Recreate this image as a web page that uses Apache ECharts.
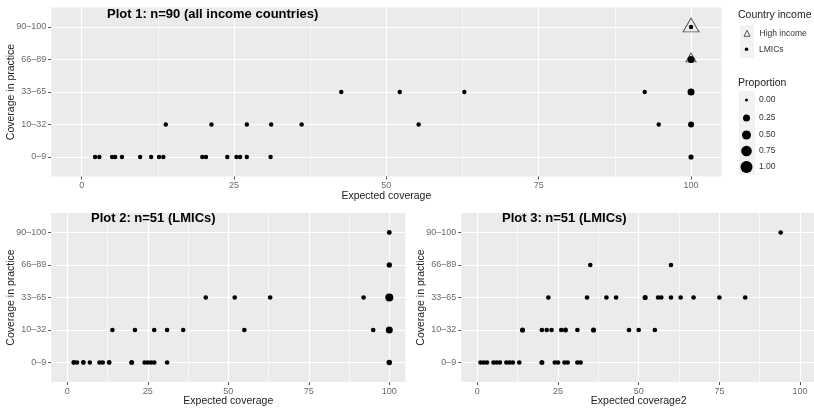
<!DOCTYPE html>
<html><head><meta charset="utf-8">
<script src="https://cdn.jsdelivr.net/npm/echarts@6/dist/echarts.min.js"></script>
<style>html,body{margin:0;padding:0;background:#fff}#c{width:814px;height:411px}</style>
</head><body><div id="c"></div>
<script>
// ---- data ----
const yLabels = ['0–9', '10–32', '33–65', '66–89', '90–100'];
const xTicks = [0, 25, 50, 75, 100];
const xMinorTicks = [12.5, 37.5, 62.5, 87.5];
const propLegend = ['0.00', '0.25', '0.50', '0.75', '1.00'];

// Plot 1: all income countries (row = index into yLabels)
const p1LmicX = [2.2, 2.9, 5.0, 5.5, 6.6, 9.6, 11.4, 12.7, 13.4, 19.8, 20.4, 23.9, 25.4, 26.0, 27.1, 31.0, 100,
                 13.8, 21.3, 27.1, 31.1, 36.1, 55.3, 94.7, 100,
                 42.6, 52.2, 62.8, 92.4, 100,
                 100,
                 100];
const p1LmicRow = [0, 0, 0, 0, 0, 0, 0, 0, 0, 0, 0, 0, 0, 0, 0, 0, 0,
                   1, 1, 1, 1, 1, 1, 1, 1,
                   2, 2, 2, 2, 2,
                   3,
                   4];
const p1LmicP = [0.06, 0.06, 0.06, 0.06, 0.06, 0.06, 0.06, 0.06, 0.06, 0.06, 0.06, 0.06, 0.06, 0.06, 0.06, 0.06, 0.10,
                 0.06, 0.06, 0.06, 0.06, 0.06, 0.06, 0.06, 0.16,
                 0.06, 0.06, 0.06, 0.06, 0.25,
                 0.25,
                 0.06];
const p1HighX = [100, 100];
const p1HighRow = [3, 4];
const p1HighP = [0.30, 0.95];

// Plot 2: LMICs, expected coverage
const p2X = [2, 3, 5, 7, 10, 11, 13, 20, 24, 25, 26, 27, 31, 100,
             14, 21, 27, 31, 36, 55, 95, 100,
             43, 52, 63, 92, 100,
             100,
             100];
const p2Row = [0, 0, 0, 0, 0, 0, 0, 0, 0, 0, 0, 0, 0, 0,
               1, 1, 1, 1, 1, 1, 1, 1,
               2, 2, 2, 2, 2,
               3,
               4];
const p2P = [0.08, 0.07, 0.08, 0.06, 0.07, 0.07, 0.08, 0.09, 0.07, 0.07, 0.07, 0.07, 0.07, 0.12,
             0.07, 0.07, 0.07, 0.07, 0.07, 0.07, 0.07, 0.25,
             0.07, 0.07, 0.07, 0.07, 0.36,
             0.11,
             0.08];

// Plot 3: LMICs, expected coverage2
const p3X = [1, 2, 3, 5, 6, 7, 9, 10, 11, 13, 20, 24, 25, 27, 28, 31, 32,
             14, 20, 21.5, 23, 26, 27.3, 31, 36, 47, 50, 55,
             22, 34, 40, 43, 52, 56, 57, 60, 63, 67, 75, 83,
             35, 60,
             94];
const p3Row = [0, 0, 0, 0, 0, 0, 0, 0, 0, 0, 0, 0, 0, 0, 0, 0, 0,
               1, 1, 1, 1, 1, 1, 1, 1, 1, 1, 1,
               2, 2, 2, 2, 2, 2, 2, 2, 2, 2, 2, 2,
               3, 3,
               4];
const p3P = [0.07, 0.07, 0.07, 0.07, 0.07, 0.07, 0.07, 0.07, 0.07, 0.07, 0.09, 0.07, 0.07, 0.07, 0.07, 0.07, 0.07,
             0.10, 0.07, 0.07, 0.07, 0.07, 0.09, 0.07, 0.10, 0.07, 0.07, 0.07,
             0.07, 0.07, 0.07, 0.07, 0.10, 0.07, 0.07, 0.07, 0.07, 0.07, 0.07, 0.07,
             0.07, 0.07,
             0.07];

// ---- chart ----
const FF = '"Liberation Sans", Arial, sans-serif';
const dotSize = p => 2 + 10 * Math.sqrt(p);
const toData = (xs, rows, ps) => xs.map((x, i) => [x, rows[i] + 1, ps[i]]);
const TICK_COLOR = '#6a6a6a';

function grid(left, top, width) {
  return {left, top, width, height: 169, show: true, backgroundColor: '#EBEBEB', borderWidth: 0, outerBoundsMode: 'none', containLabel: false};
}
function majorX(gi, name) {
  return {
    type: 'value', gridIndex: gi, min: -5, max: 105, position: 'bottom',
    name, nameLocation: 'middle', nameGap: 14, nameMoveOverlap: false,
    nameTextStyle: {fontSize: 10.5, color: '#222', fontFamily: FF},
    axisLine: {show: false, onZero: false},
    axisTick: {show: true, customValues: xTicks, length: 3, lineStyle: {color: '#555', width: 1}},
    axisLabel: {customValues: xTicks, fontSize: 9, color: TICK_COLOR, margin: 5, fontFamily: FF},
    splitLine: {show: true, lineStyle: {color: '#fff', width: 1.2}}
  };
}
function minorX(gi) {
  return {
    type: 'value', gridIndex: gi, min: -5, max: 105, position: 'top',
    axisLine: {show: false, onZero: false},
    axisTick: {show: false, customValues: xMinorTicks},
    axisLabel: {show: false, customValues: xMinorTicks},
    splitLine: {show: true, lineStyle: {color: '#fff', width: 0.6}}
  };
}
function yAx(gi) {
  return {
    type: 'value', gridIndex: gi, min: 0.4, max: 5.6,
    name: 'Coverage in practice', nameLocation: 'middle', nameGap: 35, nameMoveOverlap: false,
    nameTextStyle: {fontSize: 10.5, color: '#222', fontFamily: FF},
    axisLine: {show: false, onZero: false},
    axisTick: {show: true, customValues: [1, 2, 3, 4, 5], length: 3, lineStyle: {color: '#555', width: 1}},
    axisLabel: {customValues: [1, 2, 3, 4, 5], formatter: v => yLabels[Math.round(v) - 1], fontSize: 9, color: TICK_COLOR, margin: 5, fontFamily: FF},
    splitLine: {show: true, lineStyle: {color: '#fff', width: 1.2}}
  };
}
function dots(gi, data) {
  return {
    name: 'LMICs', type: 'scatter', xAxisIndex: gi * 2, yAxisIndex: gi, data,
    symbol: 'circle', symbolSize: d => dotSize(d[2]),
    itemStyle: {color: '#000', opacity: 1}, emphasis: {disabled: true}, silent: true
  };
}

// icon centre x, label left x for legend keys
const KEY_CX = 746.5, LABEL_X = 759;
function keyLegend(name, icon, d, cy, itemStyle) {
  const left = KEY_CX - d / 2;
  const textX = left + d + 5;
  const item = {name, icon};
  if (itemStyle) item.itemStyle = itemStyle;
  return {
    orient: 'vertical', padding: 0, selectedMode: false,
    left, top: cy - 6, itemWidth: d, itemHeight: d,
    textStyle: {fontSize: 8.5, color: '#333', lineHeight: 12, fontFamily: FF, padding: [0, 0, 0, Math.max(0, LABEL_X - textX)]},
    data: [item]
  };
}
const propCenters = [100, 118, 135, 151, 167];

const option = {
  animation: false,
  textStyle: {fontFamily: FF},
  title: [
    {text: 'Plot 1: n=90 (all income countries)', left: 107, top: 7, padding: 0, textStyle: {fontSize: 13, fontWeight: 'bold', color: '#000', lineHeight: 15, fontFamily: FF}},
    {text: 'Plot 2: n=51 (LMICs)', left: 91, top: 210.5, padding: 0, textStyle: {fontSize: 13, fontWeight: 'bold', color: '#000', lineHeight: 15, fontFamily: FF}},
    {text: 'Plot 3: n=51 (LMICs)', left: 502, top: 210.5, padding: 0, textStyle: {fontSize: 13, fontWeight: 'bold', color: '#000', lineHeight: 15, fontFamily: FF}},
    {text: 'Country income', left: 738, top: 9, padding: 0, textStyle: {fontSize: 10.5, fontWeight: 'normal', color: '#222', lineHeight: 12, fontFamily: FF}},
    {text: 'Proportion', left: 738, top: 77, padding: 0, textStyle: {fontSize: 10.5, fontWeight: 'normal', color: '#222', lineHeight: 12, fontFamily: FF}}
  ],
  graphic: [
    {type: 'rect', shape: {x: 740, y: 25, width: 14, height: 33}, style: {fill: '#F2F2F2'}, z: 0, silent: true},
    {type: 'rect', shape: {x: 739, y: 91, width: 16, height: 84}, style: {fill: '#F2F2F2'}, z: 0, silent: true}
  ],
  grid: [grid(51.2, 7.5, 670.3), grid(51.2, 213, 354.2), grid(461.2, 213, 355)],
  xAxis: [majorX(0, 'Expected coverage'), minorX(0), majorX(1, 'Expected coverage'), minorX(1), majorX(2, 'Expected coverage2'), minorX(2)],
  yAxis: [yAx(0), yAx(1), yAx(2)],
  legend: [
    keyLegend('High income', 'triangle', 6, 33.3, {color: 'rgba(0,0,0,0)', borderColor: '#555', borderWidth: 1}),
    keyLegend('LMICs', 'circle', 3.5, 49.3, null)
  ].concat(propLegend.map((n, i) => keyLegend(n, 'circle', Math.max(3, dotSize(parseFloat(n))), propCenters[i], null))),
  series: [
    {
      name: 'High income', type: 'scatter', xAxisIndex: 0, yAxisIndex: 0,
      data: toData(p1HighX, p1HighRow, p1HighP),
      symbol: 'triangle',
      symbolSize: d => { const w = 1.35 * dotSize(d[2]); return [w, w * 0.87]; },
      symbolOffset: [0, -2],
      itemStyle: {color: 'rgba(0,0,0,0)', borderColor: '#555', borderWidth: 1, opacity: 1},
      emphasis: {disabled: true}, silent: true
    },
    dots(0, toData(p1LmicX, p1LmicRow, p1LmicP)),
    dots(1, toData(p2X, p2Row, p2P)),
    dots(2, toData(p3X, p3Row, p3P))
  ].concat(propLegend.map(n => ({
    name: n, type: 'scatter', xAxisIndex: 0, yAxisIndex: 0, data: [],
    symbol: 'circle', itemStyle: {color: '#000', opacity: 1}
  })))
};

const chart = echarts.init(document.getElementById('c'), null, {renderer: 'canvas'});
chart.setOption(option);
</script>
</body></html>
